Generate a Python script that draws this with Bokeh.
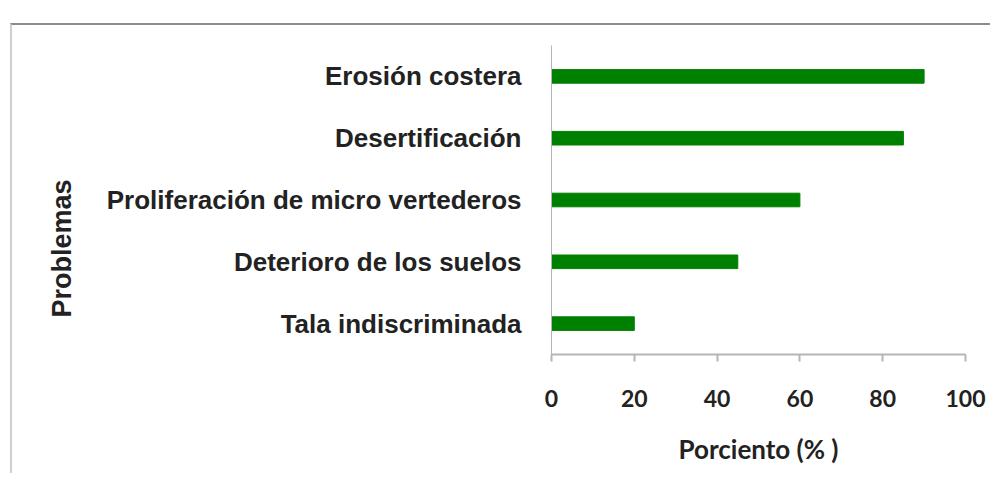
from bokeh.plotting import figure
from bokeh.models import FactorRange, Range1d, Title, FixedTicker, ColumnDataSource
from bokeh.embed import file_html
from bokeh.resources import INLINE

# data
categories = ["Tala indiscriminada", "Deterioro de los suelos",
              "Proliferación de micro vertederos", "Desertificación", "Erosión costera"]
values = [20, 45, 60, 85, 90]
x_ticks = [0, 20, 40, 60, 80, 100]

src = ColumnDataSource(dict(cat=categories, val=values))

p = figure(width=980, height=450, output_backend="svg", toolbar_location=None,
           y_range=FactorRange(*categories, range_padding=0), x_range=Range1d(0, 100),
           min_border_left=539, min_border_right=27, min_border_top=20, min_border_bottom=121)
p.margin = (23, 0, 0, 10)
p.styles = {"border-top": "2px solid #8c8c8c", "border-left": "2px solid #cfcfcf"}

p.hbar(y="cat", right="val", left=0, height=0.22, color="#008000", source=src)

p.grid.visible = False
p.outline_line_color = None

ax = p.xaxis[0]
ax.ticker = FixedTicker(ticks=x_ticks)
ax.axis_line_color = "#b5b5b5"
ax.axis_line_width = 2
ax.major_tick_line_color = "#b5b5b5"
ax.major_tick_line_width = 2
ax.major_tick_in = 0
ax.major_tick_out = 7
ax.minor_tick_line_color = None
ax.major_label_text_font = "Lato"
ax.major_label_text_font_style = "bold"
ax.major_label_text_font_size = "23px"
ax.major_label_text_color = "#222222"
ax.major_label_standoff = 28
ax.axis_label = "Porciento (% )"
ax.axis_label_text_font = "Lato"
ax.axis_label_text_font_style = "bold"
ax.axis_label_text_font_size = "26px"
ax.axis_label_text_color = "#222222"
ax.axis_label_standoff = 23

ay = p.yaxis[0]
ay.axis_line_color = "#b5b5b5"
ay.axis_line_width = 1
ay.major_tick_line_color = None
ay.minor_tick_line_color = None
ay.major_label_text_font = "Liberation Sans"
ay.major_label_text_font_style = "bold"
ay.major_label_text_font_size = "26px"
ay.major_label_text_color = "#222222"
ay.major_label_standoff = 24

# y-axis title, shifted down and out like the original
p.add_layout(Title(text="Problemas", align="left", offset=37, standoff=54,
                   text_font="Liberation Sans", text_font_style="bold",
                   text_font_size="27px", text_color="#222222"), "left")

open("out.html", "w").write(file_html(p, INLINE))
